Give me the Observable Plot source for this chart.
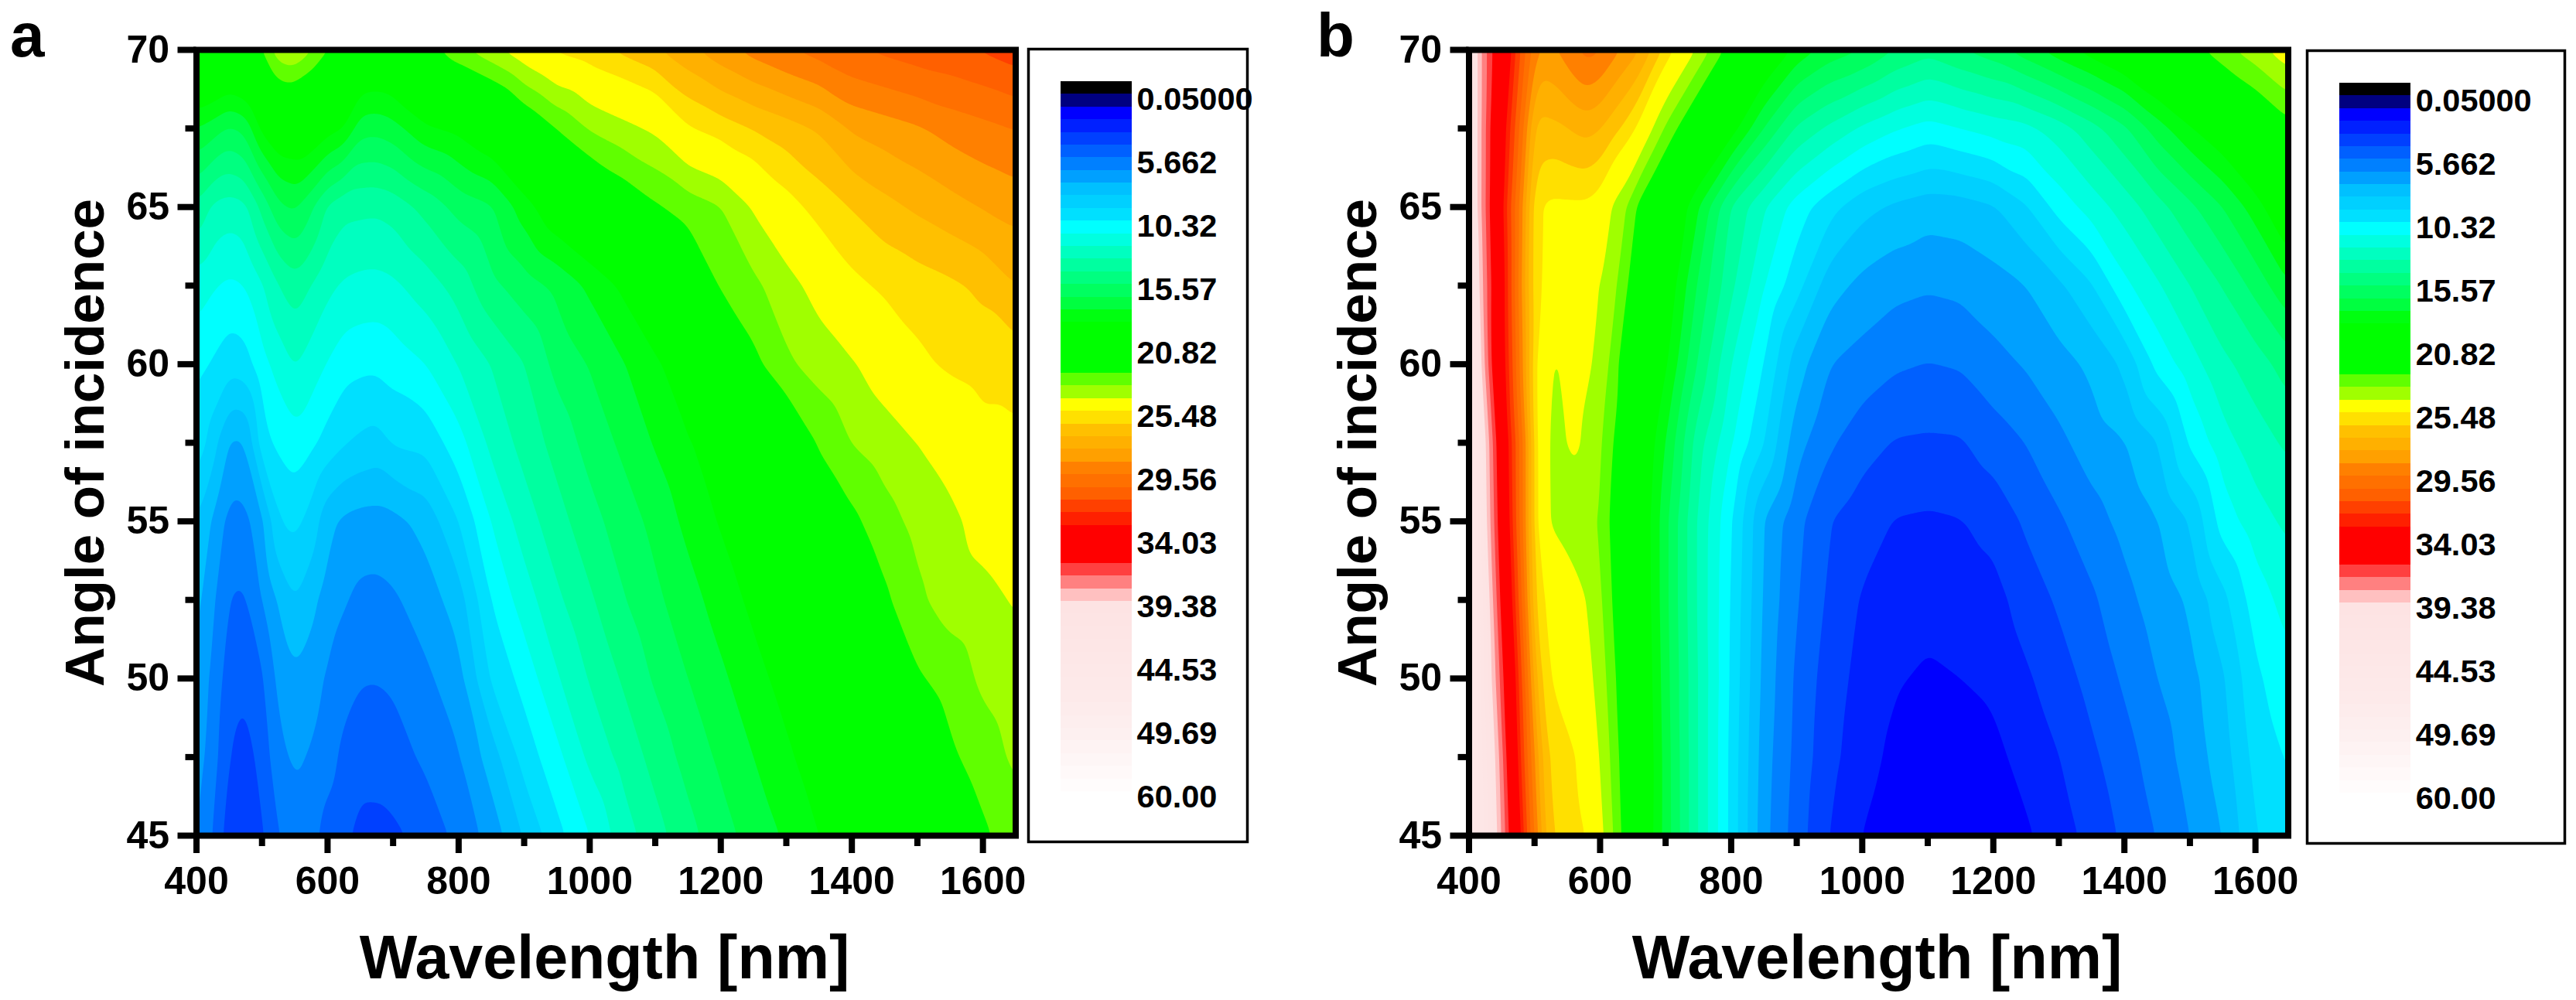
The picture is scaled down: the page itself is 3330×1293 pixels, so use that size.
<!DOCTYPE html>
<html><head><meta charset="utf-8">
<script src="https://cdn.jsdelivr.net/npm/d3@7"></script>
<script src="https://cdn.jsdelivr.net/npm/@observablehq/plot@0.6"></script>
<style>
html,body{margin:0;padding:0;background:#fff}
#page{position:relative;width:3330px;height:1293px;overflow:hidden;background:#fff}
#page>div{position:absolute;top:0}
#page svg{overflow:visible;background:transparent;display:block}
.tag{font:700 80px "Liberation Sans",sans-serif;line-height:70px;color:#000}
</style></head><body><div id="page"></div>
<script>
const angles = [45,47.5,50,52.5,55,57.5,60,62.5,65,67.5,70];
const wavelengthsA = [400,425,450,475,500,525,550,575,600,625,650,675,700,750,800,850,900,950,1000,1050,1100,1150,1200,1250,1300,1350,1400,1450,1500,1550,1600,1650];
// one row per wavelength, one value per angle of incidence
const reflectanceA = [
[6.2,6.5,6.85,7.4,8,9.7,10.35,11.5,13.8,17,21],
[5,5.5,5.75,6.2,6.9,8.5,9.9,11.1,12.8,16.5,21],
[3.4,3.95,4.45,4.93,5.6,6.85,9.35,10.8,12.5,15.85,20.5],
[3,3.6,4.2,4.85,5.7,6.95,9.55,11,12.75,16.3,21],
[3.85,4.35,4.82,6,6.75,9.65,10.65,11.9,14.3,18.3,22],
[5,5.7,6.35,7.15,8.95,10.2,11.4,13,15.8,19.3,23.7],
[5.5,6.19,6.85,8.03,9.29,10.64,12.12,13.6,16.18,19.29,24],
[5.4,5.9,6.5,7.35,8.65,10.25,11.5,13,15.2,19.2,23.1],
[4.55,5.4,5.85,6.5,7.3,9.6,10.95,12.25,13.85,18.45,22],
[4.35,4.75,5.35,6.1,6.8,9.08,10.4,11.85,13.3,18,21.7],
[3.6,4.45,5.07,5.75,6.6,8.8,10.25,11.7,13.25,16.4,20],
[3.7,4.37,5.04,5.7,6.56,8.6,10.2,11.66,13.2,16.3,19.85],
[3.8,4.55,5.15,5.85,6.7,9.1,10.45,11.8,13.4,16.6,20],
[4.35,5.2,5.8,6.5,7.35,9.3,11,12.5,14.33,17.8,21.5],
[5.3,5.9,6.6,7.5,9,10.6,12.06,13.43,15.35,18.3,22.75],
[6.4,7.5,9.15,10.05,11.05,12.27,13.04,14.74,15.9,19.2,23.7],
[8.1,9.4,10.36,11.5,12.5,13.36,13.98,15.53,17.5,20.8,24.74],
[9.67,10.7,11.9,12.8,13.6,14.38,15.33,16.25,19,22.05,25.65],
[11,12.25,13.08,13.84,14.64,15.37,16.07,17.2,20,23.1,26.04],
[12.5,13.3,14.1,14.9,15.48,16.2,16.92,18.2,21,23.67,26.5],
[13.6,14.37,15.15,15.78,16.3,17.1,17.82,19.25,21.85,24.2,27],
[14.67,15.37,16,16.6,17.28,17.9,18.73,20.57,22.45,25.4,27.7],
[15.6,16.2,16.8,17.45,18.1,18.68,20,22.15,22.96,25.9,28.4],
[16.4,17,17.63,18.26,18.86,19.5,21.69,22.77,24.12,26.35,29],
[17.15,17.8,18.4,19,19.64,20.66,22.82,23.58,25.1,26.75,29.5],
[18,18.6,19.15,19.8,20.8,22.15,23.4,24.44,25.82,27.2,29.9],
[18.7,19.3,19.93,20.85,21.75,23.03,23.9,25.24,26.35,28,30.4],
[19.4,20.07,20.88,21.8,22.6,23.53,24.56,25.65,26.85,28.3,30.7],
[20.2,20.95,21.86,22.8,23.3,24.02,25.26,25.9,27.25,28.6,31],
[21,21.8,22.4,23.45,23.76,24.45,25.65,26.15,27.6,29,31.2],
[21.8,22.5,23.2,23.7,24.4,25.1,25.9,26.46,27.95,29.3,31.5],
[22.6,23.2,23.6,24.1,24.74,25.3,25.85,27.1,28.2,29.6,31.9]
];
const wavelengthsB = [400,420,440,460,480,500,520,540,560,580,600,620,640,660,680,700,750,800,850,900,950,1000,1050,1100,1150,1200,1250,1300,1350,1400,1450,1500,1550,1600,1650];
const reflectanceB = [
[46,46,46,46,46,45,44,43,42,42,42],
[43,42.5,42,41.8,40.8,40.5,39,38.3,37.95,37.95,37.95],
[40,39.5,38.4,37.5,36.8,36.4,35.1,35.3,34.9,35.1,35.7],
[36.3,35.6,34.9,34.03,33.4,33.1,32.6,32.3,32,32.7,33.7],
[33,32.2,31.7,30.8,30.1,30.1,29,28.65,29,30.1,31.2],
[29.4,28.55,27.35,26.2,25.9,25.9,25.74,25.74,25.74,26.8,28.9],
[26.6,26.2,25.6,25.26,23.95,23.85,23.97,25.2,25.3,26.85,28.5],
[26.05,25.93,25.12,24.84,23.72,23.8,23.98,24.9,25.3,26.95,28.8],
[25.8,25.6,24.7,24.4,23.49,24.25,24.35,24.6,25.3,27.2,29.4],
[25.5,24.9,24.3,24,23.25,23.79,24.2,24.3,25.3,27.4,29.9],
[24.36,23.98,23.68,23.27,23.02,23.25,23.7,24.03,25,27.15,29.65],
[23.07,22.7,22.26,21.85,21.56,21.96,22.65,23.37,23.83,26.6,29],
[21.37,21.17,21,20.75,20.54,21.04,21.1,22.1,23.1,26.05,28.45],
[19.72,19.57,19.39,19.19,19.08,19.45,20.22,21,21.65,25.26,27.95],
[18.05,18.14,18,17.86,17.83,18.2,19.2,20,20.73,24,27],
[16.6,16.57,16.43,16.29,16.29,17,18.2,19,19.82,22.83,26.05],
[12.95,12.94,12.94,12.83,12.83,13.4,14.83,15.83,17.07,20.47,23.8],
[9.7,9.72,9.84,9.93,10.11,11.1,12,13.23,13.94,18.55,21.48],
[6.33,6.47,6.66,6.83,6.97,9.04,9.98,11.04,12.1,15.97,19.5],
[4.5,4.68,4.8,5.08,5.31,6.39,7.47,9.38,10.52,13.83,17.68],
[2.98,3.31,3.5,3.8,4.04,5.17,6.03,7.45,9.36,12.77,16.6],
[1.98,2.4,2.65,2.9,3.45,4.4,5.6,6.7,8.34,11.82,16.03],
[1.4,1.75,2.1,2.5,2.95,3.93,5.15,6.3,7.8,11.1,15],
[0.98,1.41,1.85,2.33,2.86,3.85,4.97,6.12,7.45,10.6,14.35],
[1.15,1.5,2,2.48,2.96,3.9,5.1,6.25,7.55,11,15],
[1.5,1.75,2.2,2.65,3.3,4.5,5.65,6.6,7.9,11.4,15.6],
[1.85,2.33,2.85,3.45,4.17,5.02,6.1,7,8.9,11.7,16.6],
[2.55,2.98,3.55,4.15,4.85,5.75,6.65,7.8,10.4,12.5,17.6],
[3.33,3.8,4.33,4.83,5.6,6.5,7.2,8.9,11.45,13.6,18.5],
[4.2,4.6,5.15,5.7,6.3,6.95,8.2,10.75,12.45,14.8,19.45],
[5.05,5.5,6,6.45,6.95,7.95,10.3,11.85,13.6,16.5,20.5],
[6,6.4,6.65,7.15,8.05,10.15,11.55,13,14.75,17.9,21.5],
[7,7.5,7.85,8.7,10.45,11.6,12.75,14.05,16,19,22.7],
[8.95,9.35,9.8,10.5,11.55,12.55,13.5,15.35,17.5,20.4,23.6],
[9.7,10.12,10.7,11.4,12.25,13.2,14.5,16.9,19.4,21.6,24.7]
];
const thresholds = [0.05,1,2,3,4,5,6,7,8,9,10,11,12,13,14,15,16,17,18,19,20,21,22,23,24,25.48,26.3,27.1,27.9,28.7,29.56,30.5,31.4,32.3,33.1,34.03,35.1,36.2,37.2,38.3,39.38,40.4,41.5,42.5,43.5,44.53,45.6,46.6,47.6,48.7,49.69,51.7,53.8,55.9,57.9,60];
const bandColors = ["#000000","#000080","#0000ff","#0020ff","#0040ff","#0060ff","#0080ff","#00a0ff","#00c0ff","#00d0ff","#00e0ff","#00ffff","#00ffe0","#00ffc0","#00ffa0","#00ff80","#00ff60","#00ff40","#00ff10","#00ff00","#00ff00","#00ff00","#00ff00","#60ff00","#a0ff00","#ffff00","#ffe000","#ffc000","#ffb000","#ffa000","#ff8000","#ff7000","#ff6000","#ff4000","#ff2000","#ff0000","#ff0000","#ff0000","#ff4040","#ff8080","#ffc0c0","#fde3e3","#fde4e4","#fde5e5","#fde6e6","#fde7e7","#fde8e8","#fde9e9","#fdeaea","#fdecec","#fdeeee","#fdf0f0","#fef3f3","#fef6f6","#fff9f9","#fffcfc","#ffffff"];
const legendLabels = ["0.05000","5.662","10.32","15.57","20.82","25.48","29.56","34.03","39.38","44.53","49.69","60.00"];
const xMajor = [400,600,800,1000,1200,1400,1600];
const xMinor = [500,700,900,1100,1300,1500];
const yMajor = [45,50,55,60,65,70];
const yMinor = [47.5,52.5,57.5,62.5,67.5];

const sans = '"Liberation Sans",Arial,sans-serif';
const page = document.getElementById("page");
function place(node,left,top=0){const d=document.createElement("div");d.style.left=left+"px";d.style.top=top+"px";d.append(node);page.append(d);}

function panel(wavelengths,table){
  const points = wavelengths.flatMap((w,i)=>angles.map((a,j)=>({wavelength:w,angle:a,value:table[i][j]})));
  return Plot.plot({
    width:1330,height:1293,marginLeft:253.5,marginRight:17.5,marginTop:64,marginBottom:213,
    style:{background:"transparent",overflow:"visible"},
    x:{domain:[400,1650],label:null},
    y:{domain:[45,70],label:null},
    color:{type:"threshold",domain:thresholds,range:bandColors},
    marks:[
      Plot.contour(points,{x:"wavelength",y:"angle",fill:"value",thresholds,interpolate:"barycentric",pixelSize:1.5,blur:4,stroke:"none"}),
      Plot.axisX(xMinor,{anchor:"bottom",tickSize:14,strokeWidth:8,text:null,label:null}),
      Plot.axisY(yMinor,{anchor:"left",tickSize:14,strokeWidth:8,text:null,label:null}),
      Plot.axisX(xMajor,{anchor:"bottom",tickSize:23,tickPadding:17,strokeWidth:8,fontSize:50,fontWeight:"bold",fontFamily:sans,tickFormat:"d",label:null}),
      Plot.axisY(yMajor,{anchor:"left",tickSize:24,tickPadding:11,strokeWidth:8,fontSize:50,fontWeight:"bold",fontFamily:sans,tickFormat:"d",label:null}),
      Plot.frame({stroke:"#000",strokeWidth:8}),
      Plot.text(["Wavelength [nm]"],{frameAnchor:"bottom",lineAnchor:"middle",dy:159,dx:-2,fontSize:79,fontWeight:"bold",fontFamily:sans}),
      Plot.text(["Angle of incidence"],{frameAnchor:"left",rotate:-90,textAnchor:"middle",dx:-143,fontSize:71,fontWeight:"bold",fontFamily:sans})
    ]
  });
}

function legend(width,barFrom,barTo,textAt){
  const bands = bandColors.map((c,i)=>({low:i-1,high:i,color:c}));
  const labels = legendLabels.map((t,i)=>({pos:i*5,text:t}));
  return Plot.plot({
    width:width+8,height:1093,marginLeft:4,marginRight:4,marginTop:63,marginBottom:5,
    style:{background:"transparent",overflow:"visible"},
    x:{domain:[0,1],axis:null},
    y:{domain:[58.97,-3.56],axis:null},
    color:{type:"identity"},
    marks:[
      Plot.frame({stroke:"#000",strokeWidth:3.5}),
      Plot.rect(bands,{x1:barFrom,x2:barTo,y1:"low",y2:"high",fill:"color",shapeRendering:"crispEdges"}),
      Plot.text(labels,{x:textAt,y:"pos",text:"text",dy:7,textAnchor:"start",fontSize:41.5,fontWeight:"bold",fontFamily:sans})
    ]
  });
}

place(panel(wavelengthsA,reflectanceA),0);
place(legend(283,0.15,0.475,0.495),1325);
place(panel(wavelengthsB,reflectanceB),1645.2);
place(legend(333,0.127,0.403,0.421),2977.7,2);
for(const [t,l,top] of [["a",13,11],["b",1702,11]]){
  const s=document.createElement("div");s.className="tag";s.textContent=t;s.style.left=l+"px";s.style.top=top+"px";page.append(s);
}
</script></body></html>
